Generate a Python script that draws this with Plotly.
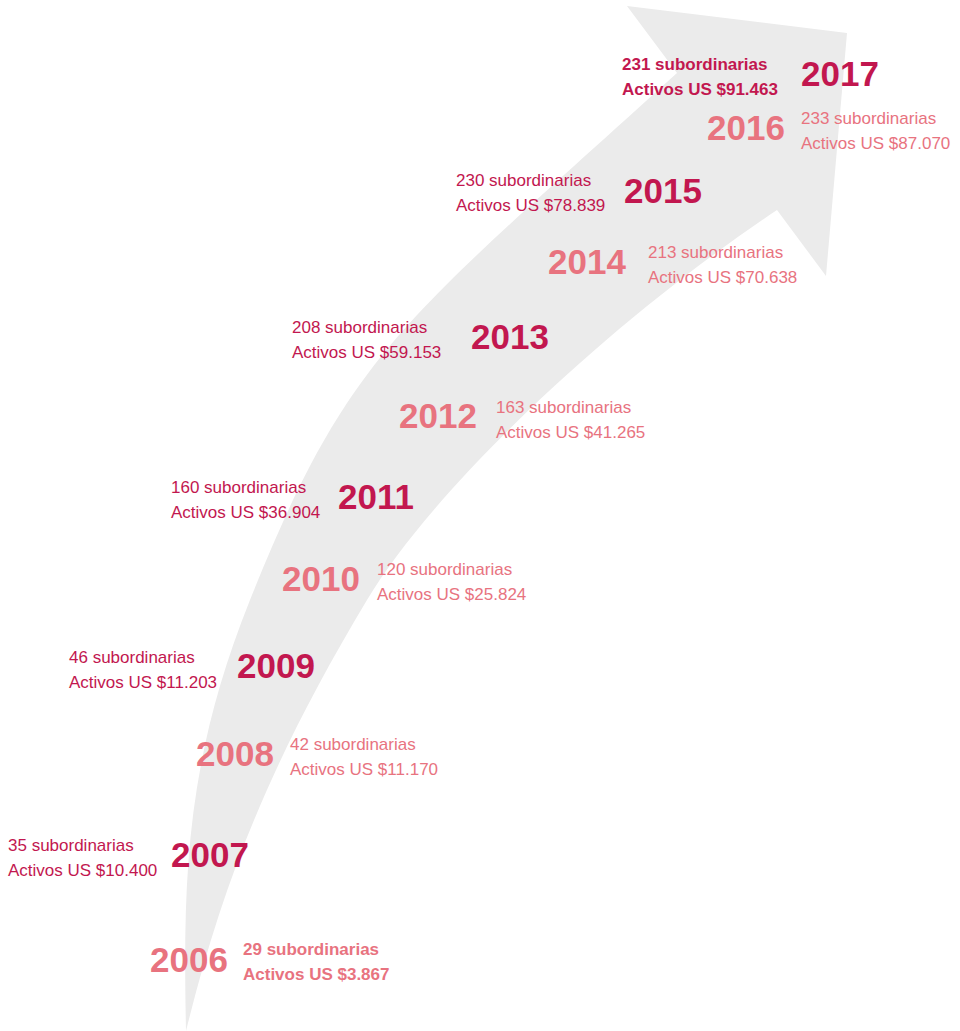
import plotly.graph_objects as go

# ---- data ----
years = [2006, 2007, 2008, 2009, 2010, 2011, 2012, 2013, 2014, 2015, 2016, 2017]
subsidiaries = [29, 35, 42, 46, 120, 160, 163, 208, 213, 230, 233, 231]
assets_musd = [3867, 10400, 11170, 11203, 25824, 36904, 41265, 59153, 70638, 78839, 87070, 91463]

# ---- layout (pixel positions of each milestone) ----
# (year_x, year_y, text_x, text_y, text_side)
placement = {
    2006: (150, 959, 243, 961, "right"),
    2007: (171, 854, 8, 857, "left"),
    2008: (196, 753, 290, 756, "right"),
    2009: (237, 665, 69, 669, "left"),
    2010: (282, 578, 377, 581, "right"),
    2011: (338, 496, 171, 499, "left"),
    2012: (399, 415, 496, 419, "right"),
    2013: (471, 336, 292, 339, "left"),
    2014: (548, 261, 648, 264, "right"),
    2015: (624, 190, 456, 192, "left"),
    2016: (707, 127, 801, 130, "right"),
    2017: (801, 73, 622, 76, "left"),
}

DARK = "#C2174F"
LIGHT = "#E8737F"
GREY = "#EBEBEB"
FONT = "Liberation Sans, Arial, sans-serif"


def fmt_assets(v):
    return "Activos US $" + f"{v:,}".replace(",", ".")


W, H = 960, 1031
fig = go.Figure()
fig.add_trace(go.Scatter(x=[0, W], y=[0, H], mode="markers",
                         marker=dict(opacity=0), hoverinfo="skip", showlegend=False))

# Curved arrow (decorative background)
arrow_path = (
    "M 186 1031 "
    "C 183 880 185 762 250 600 "
    "C 350 350 402 323 677 73 "
    "L 627 6 L 847 33 L 826 276 L 777 210 "
    "C 605 325 433 490 367 600 "
    "C 271 760 223 881 186 1031 Z"
)
fig.add_shape(type="path", path=arrow_path, xref="x", yref="y",
              fillcolor=GREY, line=dict(width=0), layer="below")

annotations = []
for i, (yr, n, a) in enumerate(zip(years, subsidiaries, assets_musd)):
    color = LIGHT if i % 2 == 0 else DARK
    bold_text = yr in (years[0], years[-1])
    yx, yy, tx, ty, side = placement[yr]
    annotations.append(dict(
        x=yx, y=yy, xref="x", yref="y", text=f"<b>{yr}</b>",
        showarrow=False, xanchor="left", yanchor="middle", borderpad=0, borderwidth=0,
        font=dict(family=FONT, size=35, color=color)))
    line1 = f"{n} subordinarias"
    line2 = fmt_assets(a)
    for k, line in enumerate([line1, line2]):
        txt = f"<b>{line}</b>" if bold_text else line
        annotations.append(dict(
            x=tx, y=ty - 12 + 25 * k, xref="x", yref="y", text=txt,
            showarrow=False, xanchor="left", yanchor="middle", borderpad=0, borderwidth=0,
            font=dict(family=FONT, size=17, color=color)))

fig.update_layout(
    width=W, height=H,
    margin=dict(l=0, r=0, t=0, b=0),
    paper_bgcolor="white", plot_bgcolor="white",
    xaxis=dict(range=[0, W], visible=False, fixedrange=True),
    yaxis=dict(range=[H, 0], visible=False, fixedrange=True),
    annotations=annotations,
    showlegend=False,
)

fig.write_html("out.html", config={"displayModeBar": False},
               post_script="document.body.style.margin='0';document.body.style.overflow='hidden';")
